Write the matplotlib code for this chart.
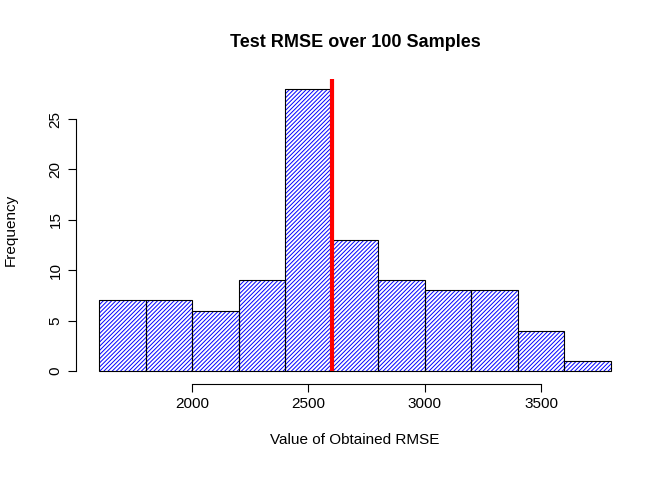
import matplotlib
matplotlib.use("Agg")
import matplotlib.pyplot as plt

bin_edges = [1600,1800,2000,2200,2400,2600,2800,3000,3200,3400,3600,3800]
counts = [7,7,6,9,28,13,9,8,8,4,1]
mean_rmse = 2600
xticks = [2000,2500,3000,3500]
yticks = [0,5,10,15,20,25]

plt.rcParams['font.family'] = ['Liberation Sans', 'DejaVu Sans']
plt.rcParams['hatch.linewidth'] = 0.7
fig = plt.figure(figsize=(6.72,4.8), dpi=100)
ax = fig.add_axes([0.1168,0.2035,0.8229,0.635])
lefts = bin_edges[:-1]
widths = [b-a for a,b in zip(bin_edges[:-1], bin_edges[1:])]
ax.bar(lefts, counts, width=widths, align='edge', color='white', edgecolor='blue', hatch='////////', linewidth=0)
ax.bar(lefts, counts, width=widths, align='edge', fill=False, edgecolor='black', linewidth=0.8)
ax.vlines(mean_rmse, 0, 29.0, color='red', linewidth=3)
ax.set_xlim(1512,3888)
ax.set_ylim(-1.12,29.12)
for s in ['top','right']:
    ax.spines[s].set_visible(False)
ax.spines['left'].set_position(('outward',2))
ax.spines['bottom'].set_position(('outward',1))
ax.spines['left'].set_bounds(0,25)
ax.spines['bottom'].set_bounds(2000,3500)
ax.set_xticks(xticks)
ax.set_yticks(yticks)
ax.set_yticklabels([str(v) for v in yticks], rotation=90, va='center')
ax.tick_params(labelsize=11, length=6)
ax.set_xlabel('Value of Obtained RMSE', fontsize=11, labelpad=16)
ax.set_ylabel('Frequency', fontsize=11, labelpad=22)
ax.set_title('Test RMSE over 100 Samples', fontsize=13, fontweight='bold', pad=22)
fig.savefig('out.png')
